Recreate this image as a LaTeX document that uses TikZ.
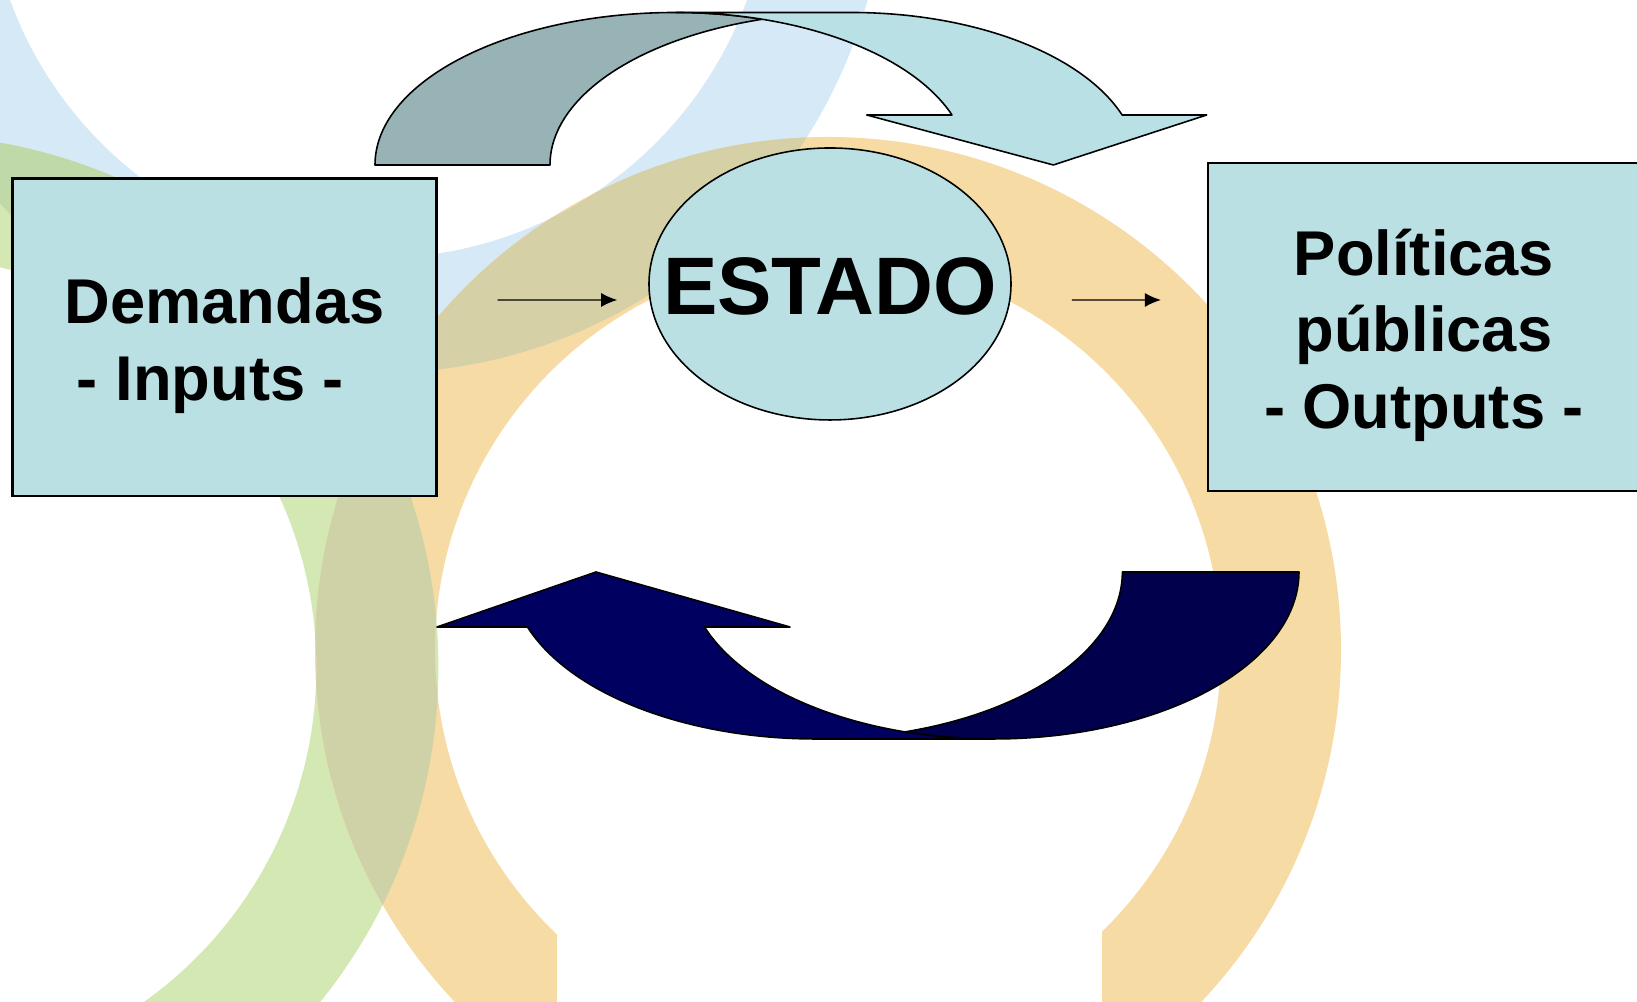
\documentclass[tikz,border=0pt]{standalone}
\usepackage{fontspec}
\setmainfont{Liberation Sans}
\usetikzlibrary{shapes.geometric,arrows.meta}

\definecolor{skyring}{RGB}{213,234,246}
\definecolor{leafring}{RGB}{211,232,179}
\definecolor{sandring}{RGB}{247,219,165}
\definecolor{skysand}{RGB}{214,208,167}
\definecolor{leafsand}{RGB}{207,210,166}
\definecolor{skyleaf}{RGB}{192,217,168}
\definecolor{boxfill}{RGB}{187,224,227}
\definecolor{backarrow}{RGB}{151,179,182}
\definecolor{frontarrow}{RGB}{185,224,228}
\definecolor{navyfront}{RGB}{0,0,96}
\definecolor{navyback}{RGB}{0,0,76}

\newcommand\skypath{(378.5,1136) circle[radius=50.7mm] ([xshift=39.2mm]378.5,1136) arc[start angle=0,end angle=-360,radius=39.2mm]}
\newcommand\leafpath{(-94.6,334.7) circle[radius=53.3mm] ([xshift=41.1mm]-94.6,334.7) arc[start angle=0,end angle=-360,radius=41.1mm]}
\newcommand\sandpath{(828,352) circle[radius=51.3mm] ([xshift=39.3mm]828,352) arc[start angle=0,end angle=-360,radius=39.3mm]}

\tikzset{
  infobox/.style={draw, line width=0.6pt, fill=boxfill, inner sep=0pt},
  boxtext/.style={align=center, inner sep=0pt, yshift=-2.3pt,
    font=\fontsize{18}{21.8}\selectfont\bfseries},
  stateoval/.style={ellipse, draw, line width=0.45pt, fill=boxfill, inner sep=0pt,
    minimum width=36.2mm, minimum height=27.2mm},
  statetext/.style={inner sep=0pt, yshift=-0.6pt, font=\fontsize{23.2}{27}\selectfont\bfseries},
  flow/.style={-{Latex[length=1.6mm,width=1.4mm]}, line width=0.4pt},
  bandedge/.style={draw=black, line width=0.45pt, line join=round},
  topell/.style={x radius=30.1mm, y radius=15.25mm},
  lowell/.style={x radius=30.56mm, y radius=16.7mm}
}

\begin{document}
\begin{tikzpicture}[x=0.1mm, y=0.1mm]
    \useasboundingbox (0,0) rectangle (1637,1002);
    \clip (0,0) rectangle (1637,1002);
    \fill[white] (0,0) rectangle (1637,1002);

    \fill[skyring] \skypath;
    \fill[leafring] \leafpath;
    \fill[sandring] \sandpath;
    \begin{scope}
        \clip \skypath;
        \fill[skysand] \sandpath;
        \fill[skyleaf] \leafpath;
    \end{scope}
    \begin{scope}
        \clip \leafpath;
        \fill[leafsand] \sandpath;
    \end{scope}
    \fill[white] (557,0) rectangle (1102,230);

    \path[fill=backarrow, bandedge] (375,837)
        arc[start angle=180, end angle=90, topell]
        arc[start angle=90, end angle=72.84, x radius=29.22mm, y radius=15.25mm]
        arc[start angle=107.16, end angle=180, topell] -- cycle;
    \path[fill=frontarrow, bandedge] (851,989.5)
        arc[start angle=90, end angle=19.14, x radius=28.7mm, y radius=15.25mm]
        -- (1206.7,887) -- (1053.3,837) -- (866.7,887) -- (952,887)
        arc[start angle=19.14, end angle=90, x radius=29.22mm, y radius=15.25mm] -- cycle;

    \path[fill=navyback, bandedge] (1299,430)
        arc[start angle=0, end angle=-106.8, lowell]
        arc[start angle=-73.2, end angle=0, lowell] -- cycle;
    \path[fill=navyfront, bandedge] (816,263)
        arc[start angle=-90, end angle=-160.77, lowell]
        -- (437,375) -- (596,430) -- (790,375) -- (704.5,375)
        arc[start angle=-160.77, end angle=-90, lowell] -- cycle;

    \node[infobox, minimum width=42.4mm, minimum height=31.75mm,
        label={[boxtext]center:{Demandas\\- Inputs -\kern8pt}}] (demandas) at (224.5,664.7) {};
    \node[stateoval, label={[statetext]center:ESTADO}] (estado) at (830,718) {};
    \node[infobox, minimum width=43.2mm, minimum height=32.8mm,
        label={[boxtext]center:{Políticas\\públicas\\- Outputs -}}] (politicas) at (1424,675) {};

    \draw[flow] ([shift={(6mm,3.73mm)}]demandas.east) -- ([shift={(-3.1mm,-1.6mm)}]estado.west);
    \draw[flow] ([shift={(6mm,-1.6mm)}]estado.east) -- ([shift={(-4.6mm,2.7mm)}]politicas.west);
\end{tikzpicture}
\end{document}
